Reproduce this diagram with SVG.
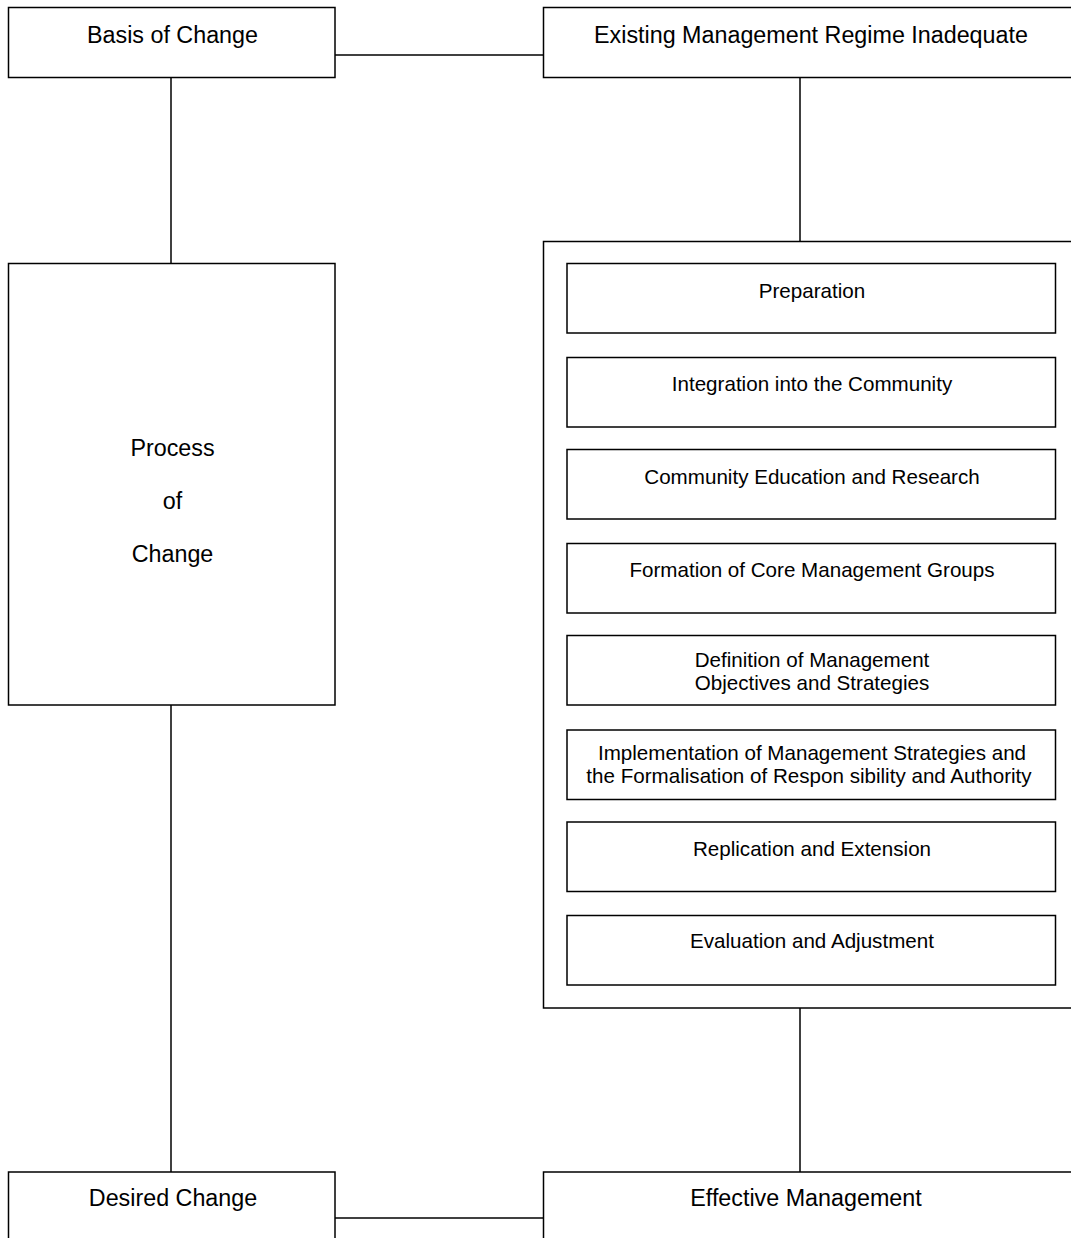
<svg xmlns="http://www.w3.org/2000/svg" width="1071" height="1238" viewBox="0 0 1071 1238">
<style>
.box{fill:#fff;stroke:#000;stroke-width:1.5}
.ln{stroke:#000;stroke-width:1.5;fill:none}
.big{font-family:"Liberation Sans",Arial,sans-serif;font-size:23.3px;fill:#000;text-anchor:middle}
.sm{font-family:"Liberation Sans",Arial,sans-serif;font-size:20.6px;fill:#000;text-anchor:middle}
</style>
<rect x="0" y="0" width="1071" height="1238" fill="#fff"/>
<g id="connectors">
<line class="ln" x1="335" y1="55" x2="543" y2="55"/>
<line class="ln" x1="171" y1="77" x2="171" y2="263"/>
<line class="ln" x1="800" y1="77" x2="800" y2="241"/>
<line class="ln" x1="171" y1="705" x2="171" y2="1172"/>
<line class="ln" x1="800" y1="1008" x2="800" y2="1172"/>
<line class="ln" x1="335" y1="1218" x2="543" y2="1218"/>
</g>
<g id="basis">
<rect class="box" x="8.5" y="7.5" width="326.5" height="70"/>
<text class="big" x="172.5" y="43">Basis of Change</text>
</g>
<g id="existing">
<rect class="box" x="543.5" y="7.5" width="540" height="70"/>
<text class="big" x="811" y="43">Existing Management Regime Inadequate</text>
</g>
<g id="process">
<rect class="box" x="8.5" y="263.5" width="326.5" height="441.5"/>
<text class="big" x="172.5" y="456">Process</text>
<text class="big" x="172.5" y="509">of</text>
<text class="big" x="172.5" y="562">Change</text>
</g>
<g id="stages">
<rect class="box" x="543.5" y="241.5" width="540" height="766.5"/>
</g>
<g id="preparation">
<rect class="box" x="567" y="263.5" width="488.5" height="69.5"/>
<text class="sm" x="812" y="298">Preparation</text>
</g>
<g id="integration">
<rect class="box" x="567" y="357.5" width="488.5" height="69.5"/>
<text class="sm" x="812" y="391">Integration into the Community</text>
</g>
<g id="education">
<rect class="box" x="567" y="449.5" width="488.5" height="69.5"/>
<text class="sm" x="812" y="484">Community Education and Research</text>
</g>
<g id="formation">
<rect class="box" x="567" y="543.5" width="488.5" height="69.5"/>
<text class="sm" x="812" y="577">Formation of Core Management Groups</text>
</g>
<g id="definition">
<rect class="box" x="567" y="635.5" width="488.5" height="69.5"/>
<text class="sm" x="812" y="667">Definition of Management</text>
<text class="sm" x="812" y="690">Objectives and Strategies</text>
</g>
<g id="implementation">
<rect class="box" x="567" y="730" width="488.5" height="69.5"/>
<text class="sm" x="812" y="760">Implementation of Management Strategies and</text>
<text class="sm" x="809" y="783">the Formalisation of Respon sibility and Authority</text>
</g>
<g id="replication">
<rect class="box" x="567" y="822" width="488.5" height="69.5"/>
<text class="sm" x="812" y="856">Replication and Extension</text>
</g>
<g id="evaluation">
<rect class="box" x="567" y="915.5" width="488.5" height="69.5"/>
<text class="sm" x="812" y="948">Evaluation and Adjustment</text>
</g>
<g id="desired">
<rect class="box" x="8.5" y="1172" width="326.5" height="80"/>
<text class="big" x="173" y="1206">Desired Change</text>
</g>
<g id="effective">
<rect class="box" x="543.5" y="1172" width="540" height="80"/>
<text class="big" x="806" y="1206">Effective Management</text>
</g>
</svg>
